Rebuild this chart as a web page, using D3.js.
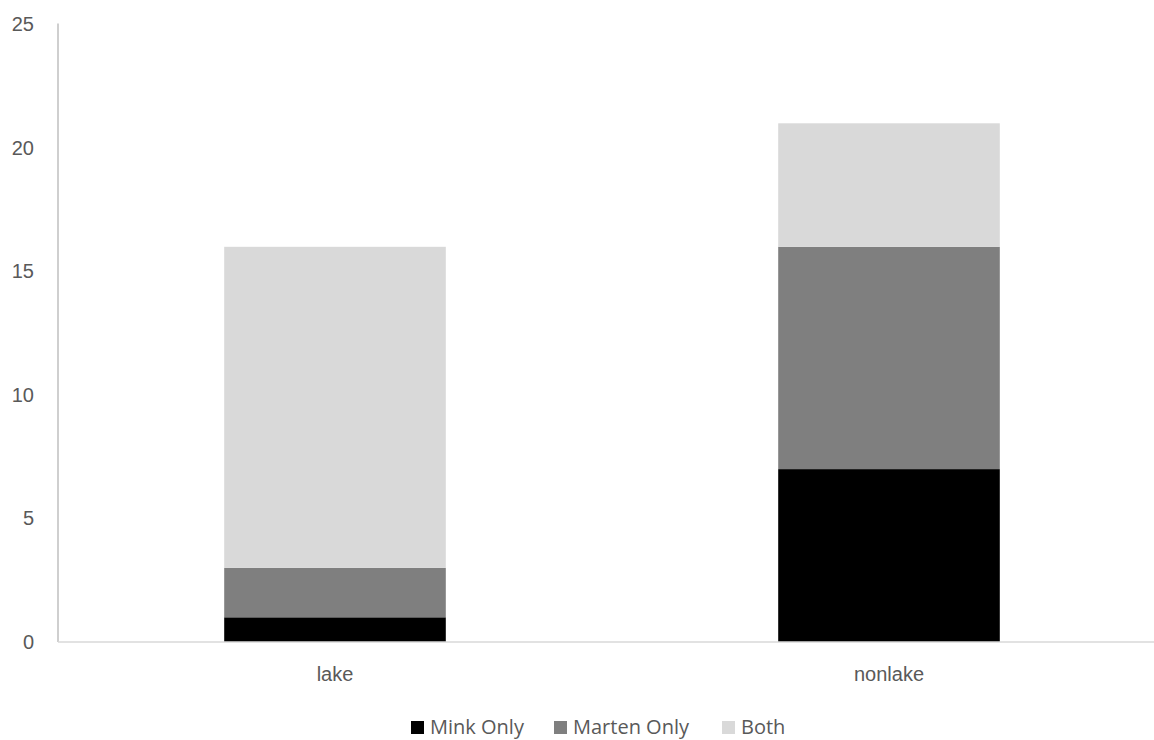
<!DOCTYPE html>
<html>
<head>
<meta charset="utf-8">
<script src="https://cdn.jsdelivr.net/npm/d3@7"></script>
<style>
  html, body { margin: 0; padding: 0; background: #fff; }
  svg { display: block; font-family: "Open Sans", "Liberation Sans", sans-serif; }
</style>
</head>
<body>
<svg id="chart" width="1154" height="740"></svg>
<script>
// Detection counts per site type
const categories = ["lake", "nonlake"];
const seriesNames = ["Mink Only", "Marten Only", "Both"];
const minkOnly = [1, 7];
const martenOnly = [2, 9];
const both = [13, 5];
const yTicks = [0, 5, 10, 15, 20, 25];
const colors = ["#000000", "#7f7f7f", "#d9d9d9"];

const rows = categories.map((c, i) => ({
  cat: c,
  "Mink Only": minkOnly[i],
  "Marten Only": martenOnly[i],
  "Both": both[i]
}));

const svg = d3.select("#chart");
const x0 = 58, x1 = 1166, yTop = 24.5, yBot = 642;
const fontSize = "20px";

const x = d3.scaleBand().domain(categories).range([x0, x1]).paddingInner(0.6).paddingOuter(0.3);
const y = d3.scaleLinear().domain([0, 25]).range([yBot, yTop]);

const stack = d3.stack().keys(seriesNames)(rows);

svg.append("g")
  .selectAll("g")
  .data(stack)
  .join("g")
  .attr("fill", (d, i) => colors[i])
  .selectAll("rect")
  .data(d => d)
  .join("rect")
  .attr("x", d => x(d.data.cat))
  .attr("width", x.bandwidth())
  .attr("y", d => y(d[1]))
  .attr("height", d => y(d[0]) - y(d[1]));

// y axis
const yAxis = svg.append("g")
  .attr("transform", `translate(${x0},0)`)
  .call(d3.axisLeft(y).tickValues(yTicks).tickSize(0).tickPadding(24));
yAxis.select(".domain").attr("stroke", "#bfbfbf").attr("stroke-width", 1.5)
  .attr("d", `M0,${y(25) - 1}V${yBot}`);
yAxis.selectAll("text").attr("fill", "#595959").style("font-size", fontSize)
  .attr("font-family", null);

// x axis
const xAxis = svg.append("g")
  .attr("transform", `translate(0,${yBot})`)
  .call(d3.axisBottom(x).tickSize(0).tickPadding(25));
xAxis.select(".domain").attr("stroke", "#d9d9d9").attr("stroke-width", 1.5)
  .attr("d", `M${x0},0H${x1}`);
xAxis.selectAll("text").attr("fill", "#595959").style("font-size", fontSize)
  .attr("font-family", null);

// legend
const legendX = [411, 554, 722];
const legend = svg.append("g");
seriesNames.forEach((name, i) => {
  const g = legend.append("g").attr("transform", `translate(${legendX[i]},721)`);
  g.append("rect").attr("width", 13).attr("height", 13).attr("fill", colors[i]);
  g.append("text").attr("x", 19).attr("y", 13)
    .attr("fill", "#595959").style("font-size", fontSize).text(name);
});
</script>
</body>
</html>
